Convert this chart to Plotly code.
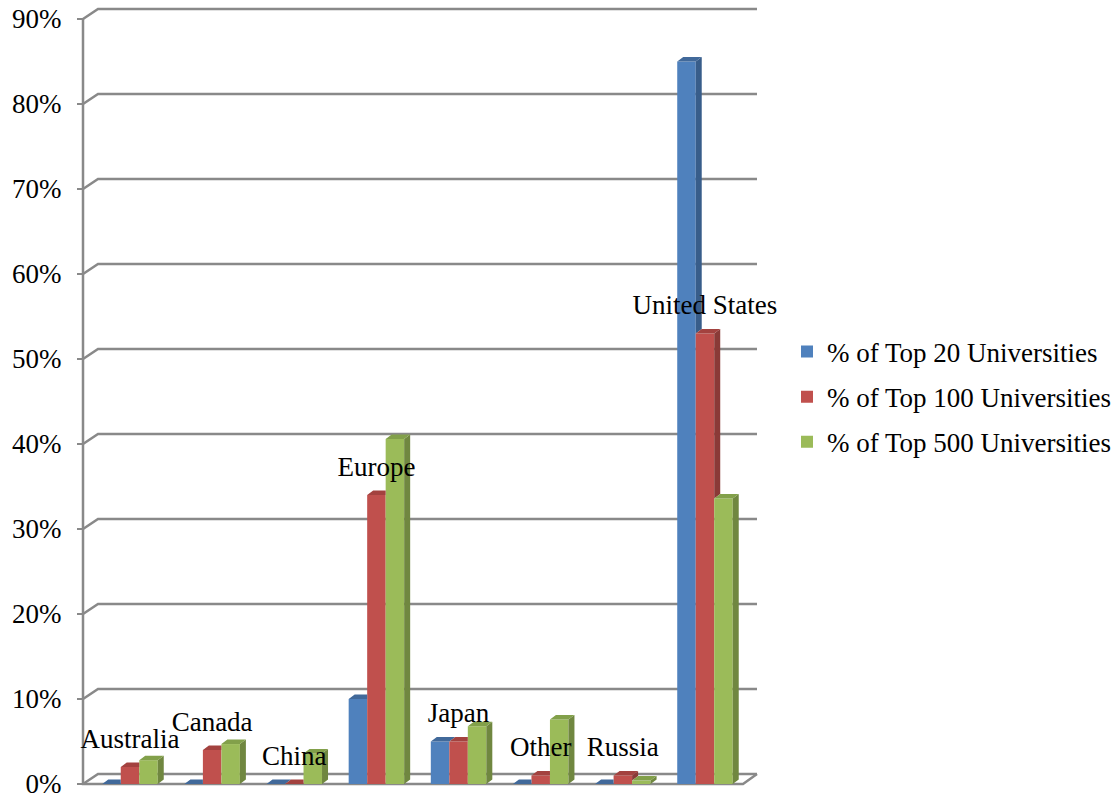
import plotly.graph_objects as go

# ---- data -------------------------------------------------------------
categories = ["Australia", "Canada", "China", "Europe", "Japan", "Other",
              "Russia", "United States"]
series_names = ["% of Top 20 Universities", "% of Top 100 Universities",
                "% of Top 500 Universities"]
top20 = [0, 0, 0, 10, 5, 0, 0, 85]
top100 = [2, 4, 0, 34, 5, 1, 1, 53]
top500 = [2.8, 4.7, 3.6, 40.6, 6.8, 7.6, 0.4, 33.6]
y_ticks = [0, 10, 20, 30, 40, 50, 60, 70, 80, 90]
y_tick_text = [f"{v}%" for v in y_ticks]

# ---- styling / geometry ----------------------------------------------
W, H = 1117, 798
FONT = "Liberation Serif, Times New Roman, serif"
FS = 27
GRID = "#898989"
front = ["#4F81BD", "#C0504D", "#9BBB59"]
side = ["#385D8A", "#8A3A37", "#708740"]
top = ["#41699A", "#A3423F", "#82A04A"]

PX_X = 82.14      # pixels per category step
PX_Y = 8.5        # pixels per percentage point
X0_PX = 130       # pixel column of the first category
Y0_PX = 784       # pixel row of 0 %
AXIS_PX = 83      # pixel column of the value axis

def to_x(px):
    return (px - X0_PX) / PX_X

def dx(px):
    return px / PX_X

def dy(px):
    return px / PX_Y

x_range = [to_x(0), to_x(W)]
y_range = [-(H - Y0_PX) / PX_Y, Y0_PX / PX_Y]

x_wall = to_x(AXIS_PX)
x_floor_end = to_x(743)
x_back_end = to_x(757)
wall_dx, wall_dy = dx(15), dy(10)
bar_dx, bar_dy = dx(6), dy(4.5)
BW = dx(18.5)
label_lift = dy(26)

series = [top20, top100, top500]
xs = list(range(len(categories)))

fig = go.Figure()

# front faces
for k, (name, vals) in enumerate(zip(series_names, series)):
    fig.add_trace(go.Bar(
        x=xs, y=vals, width=BW, offset=-1.5 * BW + k * BW,
        marker=dict(color=front[k], line=dict(width=0)),
        name=name, legendgroup=f"s{k}", hoverinfo="skip",
    ))

# side and top faces of the 3-D columns
for k, vals in enumerate(series):
    sx, sy, tx, ty = [], [], [], []
    nxt = series[k + 1] if k + 1 < len(series) else [0] * len(vals)
    for i, v in enumerate(vals):
        xl = i - 1.5 * BW + k * BW
        xr = xl + BW
        lo = nxt[i]
        if v > lo:
            sx += [xr, xr + bar_dx, xr + bar_dx, xr, xr, None]
            sy += [lo, lo + bar_dy, v + bar_dy, v, lo, None]
        # the part of the top hidden behind a taller neighbour is cut off
        right = xr if v < lo else xr + bar_dx
        tx += [xl, xl + bar_dx, right, xr, xl, None]
        ty += [v, v + bar_dy, v + bar_dy, v, v, None]
    fig.add_trace(go.Scatter(x=sx, y=sy, mode="lines", fill="toself",
                             fillcolor=side[k], line=dict(width=0),
                             showlegend=False, hoverinfo="skip"))
    fig.add_trace(go.Scatter(x=tx, y=ty, mode="lines", fill="toself",
                             fillcolor=top[k], line=dict(width=0),
                             showlegend=False, hoverinfo="skip"))

# category names above the middle column
fig.add_trace(go.Scatter(
    x=xs, y=[v + label_lift for v in top100], mode="text",
    text=categories, textposition="middle center",
    textfont=dict(family=FONT, size=FS, color="black"),
    showlegend=False, hoverinfo="skip", cliponaxis=False,
))

# back-wall gridlines, floor and value axis
shapes = []
line = dict(color=GRID, width=2.5)
for v in y_ticks:
    shapes.append(dict(
        type="path", layer="below", line=line,
        path=(f"M {x_wall},{v} L {x_wall + wall_dx},{v + wall_dy} "
              f"L {x_back_end},{v + wall_dy}"),
    ))
shapes.append(dict(
    type="path", layer="below", line=line,
    path=(f"M {x_wall},{y_ticks[-1]} L {x_wall},0 L {x_floor_end},0 "
          f"L {x_back_end},{wall_dy}"),
))

fig.update_layout(
    width=W, height=H, margin=dict(l=0, r=0, t=0, b=0),
    paper_bgcolor="white", plot_bgcolor="white",
    barmode="overlay",
    shapes=shapes,
    showlegend=True,
    legend=dict(x=(827 - 40) / W, xanchor="left", y=(H - 397) / H,
                yanchor="middle", bgcolor="rgba(0,0,0,0)",
                traceorder="grouped", tracegroupgap=7,
                font=dict(family=FONT, size=FS, color="black")),
    xaxis=dict(range=x_range, visible=False, fixedrange=True),
    yaxis=dict(range=y_range, anchor="free", position=AXIS_PX / W,
               tickvals=y_ticks, ticktext=y_tick_text,
               ticks="outside", ticklen=6, tickwidth=2, tickcolor=GRID,
               ticklabelstandoff=10, ticklabeloverflow="allow",
               showgrid=False, zeroline=False, showline=False,
               tickfont=dict(family=FONT, size=FS, color="black"),
               fixedrange=True),
)

fig.write_html("out.html")
